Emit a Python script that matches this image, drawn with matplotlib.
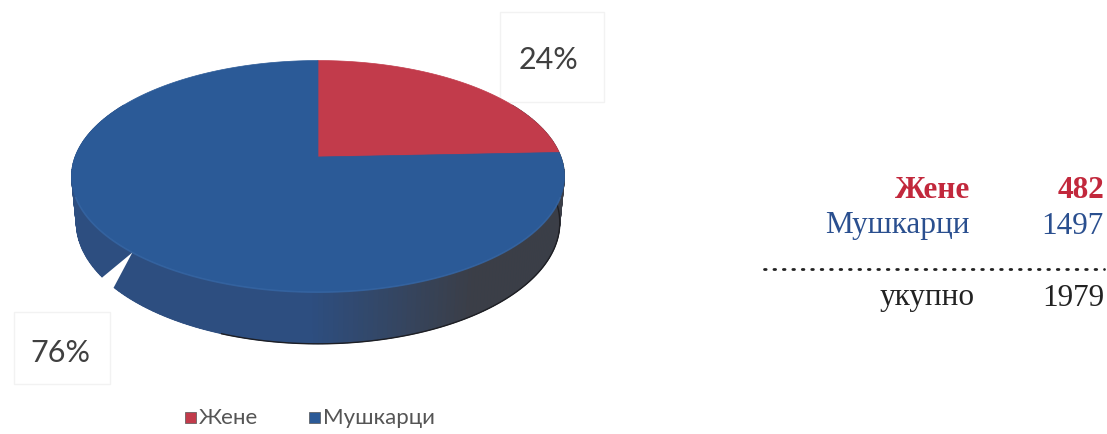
import numpy as np
import matplotlib
matplotlib.use("Agg")
import matplotlib.pyplot as plt
from matplotlib.patches import Polygon, Rectangle

# data
categories = ["Жене", "Мушкарци"]
counts = [482, 1497]
total_label = "укупно"

top_colors = ["#c23b4b", "#2b5a97"]
side_left = np.array([0x2d, 0x4e, 0x80]) / 255
side_right = np.array([0x3b, 0x3e, 0x47]) / 255
table_colors = ["#c2283c", "#2a4f8f"]

total = sum(counts)
shares = [c / total for c in counts]

fig = plt.figure(figsize=(11.07, 4.34), dpi=100)
ax = fig.add_axes([0, 0, 1, 1])
ax.set_xlim(0, 1107)
ax.set_ylim(434, 0)
ax.axis("off")

# tilted disk with a bit of perspective
CX, CY, R = 318, 157, 243
ELEV = np.radians(27.6)
FOC = 5.3
H = 0.216


def proj(phi, z):
    x = np.sin(phi)
    y = -np.cos(phi)
    up = z * np.cos(ELEV) - y * np.sin(ELEV)
    dz = y * np.cos(ELEV) + z * np.sin(ELEV)
    s = FOC / (FOC - dz)
    return CX + R * x * s, CY - R * up * s


# side wall, drawn in strips so it can shade from blue to grey
phis = np.radians(np.linspace(60, 300, 241))
tx, ty = proj(phis, 0.0)
bx, by = proj(phis, -H)
bex, bey = proj(np.radians(np.linspace(0, 360, 361)), -H)
ax.add_patch(Polygon(np.column_stack([bex, bey]), closed=True,
                     facecolor=side_left, edgecolor="none", zorder=1))
for i in range(len(phis) - 1):
    xm = (bx[i] + bx[i + 1]) / 2
    t = np.clip((xm - 310) / 160, 0, 1)
    col = side_left * (1 - t) + side_right * t
    quad = [(tx[i], ty[i]), (tx[i + 1], ty[i + 1]),
            (bx[i + 1], by[i + 1]), (bx[i], by[i])]
    ax.add_patch(Polygon(quad, closed=True, facecolor=col, edgecolor=col,
                         lw=0.6, zorder=1))
# thin dark outline on the lower right rim
rim = np.radians(np.linspace(75, 200, 126))
rx, ry = proj(rim, -H)
ax.plot(rx, ry, color="#1e1f24", lw=1.0, zorder=1.5)

# top face slices, starting at 12 o'clock, clockwise
start = 0.0
for share, col in zip(shares, top_colors):
    a = np.radians(np.linspace(start, start + share * 360, 200))
    px, py = proj(a, 0.0)
    pts = np.vstack([[CX, CY], np.column_stack([px, py])])
    ax.add_patch(Polygon(pts, closed=True, facecolor=col, edgecolor=col,
                         lw=0.5, zorder=3))
    start += share * 360

# faint highlight on the front rim
hl = np.radians(np.linspace(110, 250, 141))
hx, hy = proj(hl, 0.0)
ax.plot(hx, hy, color="#3a6aa8", lw=1.2, alpha=0.6, zorder=3.5)

# white leader from the 76% label cutting the wall
tip = proj(np.radians(222), 0.0)
b1 = proj(np.radians(235), -H)
b2 = proj(np.radians(230), -H)
ax.add_patch(Polygon([tip, b1, (b1[0] - 4, b1[1] + 6), (b2[0] - 4, b2[1] + 6), b2],
                     closed=True, facecolor="white", edgecolor="none", zorder=4))

# percentage labels in faint boxes
pct = [f"{round(s * 100)}%" for s in shares]
label_pos = [(548, 60), (60, 353)]
box_pos = [(500, 12, 104, 90), (14, 312, 96, 72)]
for txt, (lx, ly), (bx0, by0, bw, bh) in zip(pct, label_pos, box_pos):
    ax.add_patch(Rectangle((bx0, by0), bw, bh, facecolor="none",
                           edgecolor="#f2f2f2", lw=1.0, zorder=2))
    ax.text(lx, ly, txt, fontsize=22, color="#404040", family="Lato",
            ha="center", va="center", zorder=5)

# legend
leg_x = [185, 309]
for x0, name, col in zip(leg_x, categories, top_colors):
    ax.add_patch(Rectangle((x0, 412), 11, 11, facecolor=col, edgecolor="#555555",
                           lw=0.5, zorder=5))
    ax.text(x0 + 14, 418, name, fontsize=16, color="#555555", family="Lato",
            ha="left", va="center", zorder=5)

# side table
rows_y = [190, 226]
weights = ["bold", "normal"]
for y, name, val, col, w in zip(rows_y, categories, counts, table_colors, weights):
    ax.text(970, y, name, fontsize=22.5, color=col, family="Liberation Serif",
            fontweight=w, ha="right", va="center")
    ax.text(1104, y, str(val), fontsize=22.5, color=col, family="Liberation Serif",
            fontweight=w, ha="right", va="center")
ax.plot([764, 1104], [269, 269], color="#222222", lw=2.0,
        linestyle=(0, (0.6, 2.8)), dash_capstyle="round")
ax.text(975, 298, total_label, fontsize=22.5, color="#222222",
        family="Liberation Serif", ha="right", va="center")
ax.text(1104, 298, str(total), fontsize=22.5, color="#222222",
        family="Liberation Serif", ha="right", va="center")

fig.savefig("out.png", dpi=100)
